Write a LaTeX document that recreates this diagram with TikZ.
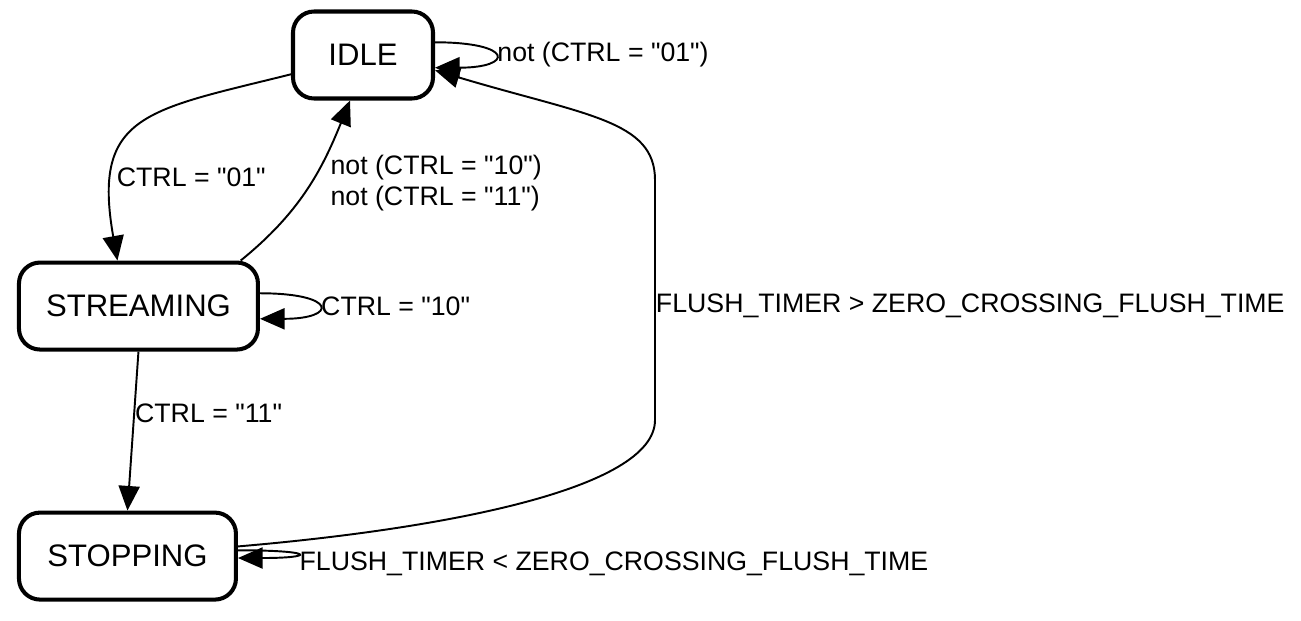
\documentclass[tikz,border=0pt]{standalone}
\usepackage{fontspec}
\setmainfont{Liberation Sans}[Ligatures=TeXOff]
\usepackage{tikz}
\usetikzlibrary{positioning,arrows.meta,calc}

\begin{document}
\begin{tikzpicture}[
  state/.style = {rectangle, rounded corners=12pt, draw, line width=2.3pt,
                  minimum height=1.74cm, inner sep=0pt,
                  font=\fontsize{17.7}{21}\selectfont},
  lbl/.style   = {inner sep=0pt, align=left,
                  font=\fontsize{15.2}{17.6}\selectfont},
  arr/.style   = {-{Triangle[length=14pt,width=12pt]}, line width=1.1pt},
  node distance = 3.2cm and 0.62cm
]
\useasboundingbox (0,0) rectangle (26.02,12.4);

\node[state, minimum width=2.8cm] (s-idle) at (7.26,11.30) {IDLE};
\node[state, minimum width=4.78cm, below left=3.2cm and 0.62cm of s-idle] (s-stream) {STREAMING};
\node[state, minimum width=4.34cm, below=3.18cm of s-stream.south west,
      anchor=north west] (s-stop) {STOPPING};

\coordinate (fl-lo) at (13.10,4.00);
\coordinate (fl-hi) at (13.10,8.80);

\draw[arr] (s-idle.195) to[out=194, in=100, looseness=1.5]
  node[lbl, pos=0.76, anchor=west, xshift=0.06cm] {CTRL = "01"}
  ([xshift=-0.42cm]s-stream.north);
\draw[arr] (s-stream.24) to[out=39, in=248]
  node[lbl, pos=0.55, anchor=west, xshift=0.36cm, yshift=-0.04cm]
  {not (CTRL = "10")\\not (CTRL = "11")}
  ([xshift=-0.26cm]s-idle.south);
\draw[arr] (s-stream.south) --
  node[lbl, pos=0.39, anchor=west] {CTRL = "11"} (s-stop.north);

\draw[arr] (s-idle.10) to[out=0, in=0, looseness=8]
  node[lbl, anchor=west, xshift=0.04cm] {not (CTRL = "01")} (s-idle.-10);
\draw[arr] (s-stream.6) to[out=0, in=0, looseness=7.8]
  node[lbl, anchor=west, xshift=0.04cm] {CTRL = "10"} (s-stream.-6);
\draw[arr] (s-stop.3) to[out=0, in=0, looseness=26]
  node[lbl, anchor=west, xshift=0.04cm, yshift=-0.2cm]
  {FLUSH\_TIMER < ZERO\_CROSSING\_FLUSH\_TIME} (s-stop.-1);

\draw[arr] (s-stop.5) .. controls +(4,0.34) and +(0,-1.4) .. (fl-lo)
  -- (fl-hi) node[lbl, pos=0.475, anchor=west]
  {FLUSH\_TIMER > ZERO\_CROSSING\_FLUSH\_TIME}
  .. controls +(0,1.2) and +(3,-0.9) .. (s-idle.348);
\end{tikzpicture}
\end{document}
